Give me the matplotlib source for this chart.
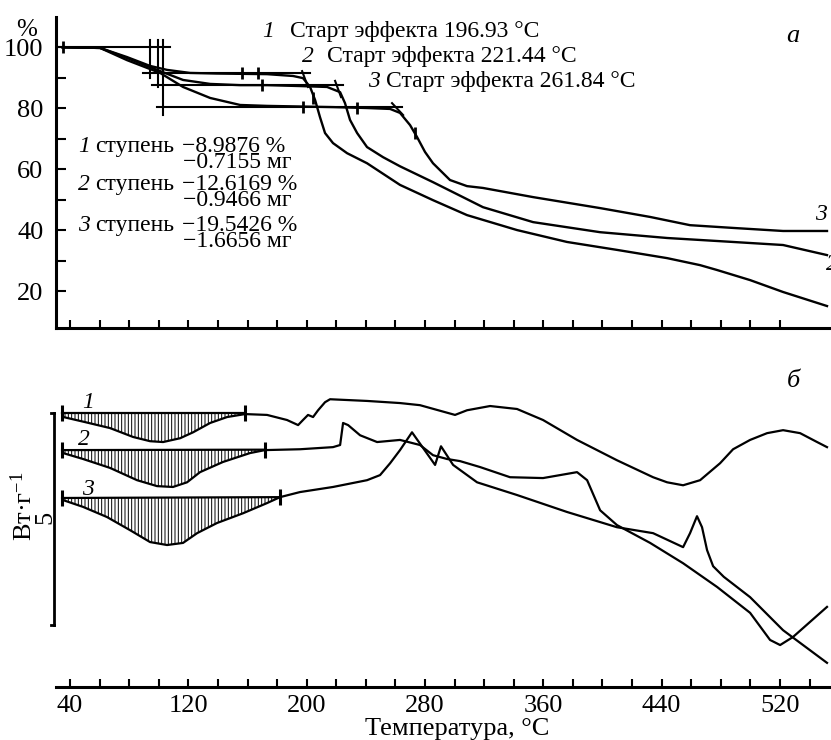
import matplotlib

matplotlib.use("Agg")
import matplotlib.pyplot as plt
import numpy as np

plt.rcParams["font.family"] = ["Liberation Serif", "DejaVu Serif"]
plt.rcParams["mathtext.fontset"] = "custom"
plt.rcParams["mathtext.rm"] = "Liberation Serif"
plt.rcParams["mathtext.it"] = "Liberation Serif:italic"
plt.rcParams["hatch.linewidth"] = 0.7

W, H = 831, 740

# ---- TG curves (mass, %)
tg1_t = [35, 60.3, 78.5, 94.1, 105.6, 121.1, 139.4, 173.2, 190.8, 197.5, 202.3, 205.7, 209, 212.4,
         217.8, 227.3, 240.8, 263.1, 285.4, 308.4, 342.2, 376, 409.8, 443.7, 466, 477.5, 499.8, 522.1, 551.8]
tg1_v = [100, 99.8, 96.8, 93.9, 92.6, 91.6, 91.4, 91.2, 90.6, 89.9, 87.0, 82.7, 77.1, 71.9,
         68.6, 65.3, 62.0, 54.9, 49.9, 45.0, 40.1, 36.2, 33.6, 30.9, 28.6, 27.0, 23.7, 19.8, 15.2]

tg2_t = [35, 60.3, 78.5, 98.8, 116.4, 134.7, 155, 173.2, 195.5, 213.8, 222.6, 225.9, 229.3, 234.1,
         240.8, 251.6, 263.1, 285.4, 319.2, 353.1, 398.4, 443.7, 488.3, 522.1, 551.8]
tg2_v = [100, 99.8, 96.5, 92.6, 89.3, 88.0, 87.6, 87.6, 87.3, 87.0, 85.3, 81.7, 76.2, 71.9,
         67.3, 64.0, 61.0, 55.8, 47.6, 42.7, 39.4, 37.5, 36.2, 35.2, 31.9]

tg3_t = [35, 60.3, 78.5, 100.9, 116.4, 134.7, 155, 173.2, 217.8, 240.8, 256.4, 263.1, 269.9,
         274.6, 280.0, 285.4, 296.9, 308.4, 319.2, 353.1, 398.4, 432.2, 459.2, 488.3, 522.1, 551.8]
tg3_v = [100, 99.8, 95.8, 91.6, 87.0, 83.4, 81.1, 80.8, 80.4, 80.1, 79.8, 78.5, 74.5,
         70.6, 65.7, 62.0, 56.5, 54.5, 53.9, 50.9, 47.3, 44.4, 41.7, 40.8, 39.8, 39.8]

# onset construction lines (T0, v0, T1, v1)
tg_lines = [
    (31, 100, 107.6, 100),
    (89.4, 91.5, 202.3, 91.5),
    (95.4, 87.6, 224.6, 87.6),
    (98.8, 80.4, 264.5, 80.4),
    (94.1, 102.4, 94.1, 90.1),
    (99.5, 102.4, 99.5, 87.0),
    (102.9, 102.4, 102.9, 77.8),
    (196.9, 92.2, 200.9, 87.0),
    (219.2, 89.0, 223.2, 83.7),
    (257.7, 81.7, 265.2, 77.8),
]
tg_marks_t = [35.3, 156.3, 167.1, 169.8, 197.5, 204.3, 234.1, 273.3]
tg_marks_v = [100, 91.5, 91.5, 87.6, 80.4, 83.4, 80.1, 71.9]

# ---- DSC curves (W/g, offset)
dsc1_t = [35.5, 49.0, 67.0, 82.6, 94.1, 102.9, 114.4, 123.2, 134.7, 146.2, 158.3, 173.2, 186.7, 194.2,
          197.5, 200.9, 204.3, 207.7, 212.4, 215.8, 240.8, 263.1, 276.6, 300.3, 308.4, 324.0, 342.2,
          359.8, 382.8, 409.8, 434.2, 443.7, 454.5, 466.0, 479.5, 488.3, 499.8, 511.3, 522.1, 533.6,
          545.1, 551.8]
dsc1_u = [6.37, 6.26, 6.11, 5.90, 5.80, 5.78, 5.87, 6.01, 6.23, 6.37, 6.44, 6.42, 6.30, 6.18,
          6.30, 6.42, 6.37, 6.53, 6.72, 6.79, 6.75, 6.70, 6.65, 6.42, 6.53, 6.63, 6.56,
          6.30, 5.83, 5.35, 4.95, 4.83, 4.76, 4.88, 5.28, 5.61, 5.83, 5.99, 6.06, 5.99,
          5.78, 5.66]
base1_t, base1_u = [34.6, 158.3], [6.46, 6.46]

dsc2_t = [35.3, 48.8, 67.0, 85.3, 98.8, 109.6, 119.1, 127.9, 143.4, 161.7, 171.8, 195.5, 217.8, 222.6,
          224.6, 228.0, 236.1, 247.6, 263.1, 276.6, 285.4, 294.9, 303.7, 317.2, 337.5, 359.8, 382.8,
          389.6, 398.4, 409.8, 432.2, 454.5, 477.5, 499.8, 513.3, 520.1, 528.8, 551.8]
dsc2_u = [5.52, 5.38, 5.17, 4.88, 4.74, 4.72, 4.83, 5.07, 5.31, 5.52, 5.59, 5.61, 5.66, 5.71,
          6.23, 6.18, 5.94, 5.78, 5.83, 5.71, 5.47, 5.38, 5.33, 5.19, 4.95, 4.93, 5.07,
          4.88, 4.17, 3.82, 3.40, 2.92, 2.36, 1.75, 1.11, 0.99, 1.18, 1.89]
base2_t, base2_u = [34.6, 171.8], [5.59, 5.60]

dsc3_t = [35.3, 48.8, 65.0, 80.6, 94.1, 105.6, 116.4, 125.9, 139.4, 157.0, 173.2, 182.0, 195.5, 217.8,
          240.8, 249.6, 256.4, 263.1, 271.2, 286.8, 290.8, 299.0, 315.2, 342.2, 376.0, 409.8, 434.2,
          454.5, 459.2, 463.9, 467.3, 470.7, 474.8, 482.0, 499.8, 522.1, 551.8]
dsc3_u = [4.41, 4.25, 4.01, 3.70, 3.42, 3.35, 3.40, 3.63, 3.87, 4.10, 4.34, 4.48, 4.60, 4.72,
          4.88, 5.00, 5.28, 5.59, 6.01, 5.24, 5.68, 5.24, 4.83, 4.53, 4.13, 3.77, 3.63,
          3.30, 3.63, 4.03, 3.77, 3.23, 2.85, 2.60, 2.12, 1.34, 0.57]
base3_t, base3_u = [34.6, 182.0], [4.46, 4.48]

scale_top, scale_bottom = 6.46, 1.46

x_lim = (30.5, 554.5)

fig = plt.figure(figsize=(W / 100, H / 100), dpi=100)
ax1 = fig.add_axes([56 / W, 1 - 328 / H, 775 / W, (328 - 16.8) / H])
ax2 = fig.add_axes([56 / W, 1 - 687 / H, 775 / W, (687 - 370) / H])

# ---- top panel
for t, v in [(tg1_t, tg1_v), (tg2_t, tg2_v), (tg3_t, tg3_v)]:
    ax1.plot(t, v, color="black", lw=1.7, solid_joinstyle="round")
for t0, v0, t1, v1 in tg_lines:
    ax1.plot([t0, t1], [v0, v1], color="black", lw=1.5)
ax1.plot(tg_marks_t, tg_marks_v, ls="none", marker="|", ms=8, mew=2, color="black")

ax1.set_xlim(*x_lim)
ax1.set_ylim(8, 110)
for s in ["top", "right"]:
    ax1.spines[s].set_visible(False)
for s in ["left", "bottom"]:
    ax1.spines[s].set_linewidth(2.2)
ax1.set_yticks([20, 40, 60, 80, 100])
ax1.set_yticks([30, 50, 70, 90], minor=True)
ax1.set_xticks(np.arange(40, 521, 20))
ax1.set_xticklabels([])
ax1.tick_params(axis="y", which="both", direction="in", length=7, width=1.5, labelsize=19, pad=9)
ax1.tick_params(axis="x", which="both", direction="in", length=6, width=1.5)

# ---- bottom panel
for t, u, bt, bu in [(dsc1_t, dsc1_u, base1_t, base1_u),
                     (dsc2_t, dsc2_u, base2_t, base2_u),
                     (dsc3_t, dsc3_u, base3_t, base3_u)]:
    t = np.array(t)
    u = np.array(u)
    ax2.plot(t, u, color="black", lw=1.6, solid_joinstyle="round")
    ax2.plot(bt, bu, color="black", lw=1.6)
    m = t <= bt[1]
    ax2.fill(np.r_[t[m], bt[::-1]], np.r_[u[m], bu[::-1]], fill=False, hatch="|||||",
             edgecolor="black", linewidth=0)
    ax2.plot(bt, bu, ls="none", marker="|", ms=11, mew=2.2, color="black")

ax2.plot([29.4, 29.4], [scale_top, scale_bottom], color="black", lw=2, clip_on=False)
ax2.plot([26.8, 29.4], [scale_top, scale_top], color="black", lw=2, clip_on=False)
ax2.plot([26.8, 29.4], [scale_bottom, scale_bottom], color="black", lw=2, clip_on=False)

ax2.set_xlim(*x_lim)
ax2.set_ylim(0, 7.48)
for s in ["top", "right", "left"]:
    ax2.spines[s].set_visible(False)
ax2.spines["bottom"].set_linewidth(2.2)
ax2.set_yticks([])
ax2.set_xticks(np.arange(40, 521, 80))
ax2.set_xticks(np.arange(40, 541, 20), minor=True)
ax2.tick_params(axis="x", which="both", direction="in", length=6, width=1.5, labelsize=19, pad=6)


def ftext(x, y, s, **kw):
    fig.text(x / W, 1 - y / H, s, **kw)


fs = 17
ftext(27, 30, "%", fontsize=18, ha="center", va="center")
ftext(268, 37, "1", fontsize=fs, style="italic", ha="center")
ftext(290, 37, "Старт эффекта 196.93 °C", fontsize=fs)
ftext(308, 62, "2", fontsize=fs, style="italic", ha="center")
ftext(327, 62, "Старт эффекта 221.44 °C", fontsize=fs)
ftext(374, 87, "3", fontsize=fs, style="italic", ha="center")
ftext(386, 87, "Старт эффекта 261.84 °C", fontsize=fs)

steps = [("1", "−8.9876 %", "−0.7155 мг", 152),
         ("2", "−12.6169 %", "−0.9466 мг", 190),
         ("3", "−19.5426 %", "−1.6656 мг", 231)]
for num, pct, mg, yb in steps:
    ftext(78, yb, num, fontsize=fs, style="italic")
    ftext(95, yb, "ступень", fontsize=fs)
    ftext(182, yb, pct, fontsize=fs)
    ftext(183, yb + 16, mg, fontsize=fs)

ftext(793, 42, "а", fontsize=19, style="italic", ha="center")
ftext(793, 387, "б", fontsize=19, style="italic", ha="center")
ftext(821, 220, "3", fontsize=fs, style="italic", ha="center")
ftext(826, 270, "2", fontsize=fs, style="italic", ha="left")

ftext(88, 408, "1", fontsize=fs, style="italic", ha="center")
ftext(84, 445, "2", fontsize=fs, style="italic", ha="center")
ftext(88, 495, "3", fontsize=fs, style="italic", ha="center")

ftext(24, 506, "Вт·г$^{-1}$", fontsize=19, rotation=90, ha="center", va="center")
ftext(45, 517, "5", fontsize=19, rotation=90, ha="center", va="center")

ftext(457, 729, "Температура, °C", fontsize=19, ha="center", va="center")

fig.savefig("out.png", dpi=100)
